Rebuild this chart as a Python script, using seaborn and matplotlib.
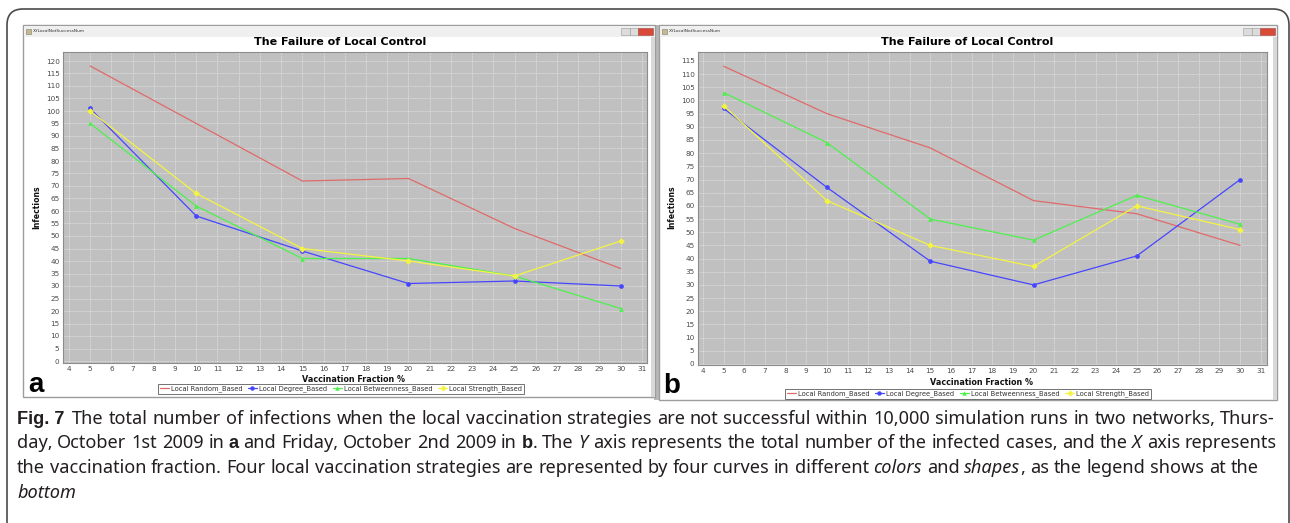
#!/usr/bin/env python3
"""Fig. 7: failure of local control, two networks (a, b)."""

import matplotlib
matplotlib.use("Agg")
import matplotlib.pyplot as plt
from matplotlib import font_manager
from matplotlib.patches import Rectangle, FancyBboxPatch
from matplotlib.transforms import IdentityTransform
from matplotlib.lines import Line2D
import pandas as pd
import seaborn as sns

W, H = 1290, 523

fractions = [5, 10, 15, 20, 25, 30]
strategies = ["Local Random_Based", "Local Degree_Based",
              "Local Betweenness_Based", "Local Strength_Based"]

a_random = [118, 95, 72, 73, 53, 37]
a_degree = [101, 58, 44, 31, 32, 30]
a_betweenness = [95, 62, 41, 41, 34, 21]
a_strength = [100, 67, 45, 40, 34, 48]

b_random = [113, 95, 82, 62, 57, 45]
b_degree = [97, 67, 39, 30, 41, 70]
b_betweenness = [103, 84, 55, 47, 64, 53]
b_strength = [98, 62, 45, 37, 60, 51]

x_ticks = list(range(4, 32))
a_y_ticks = list(range(0, 121, 5))
b_y_ticks = list(range(0, 116, 5))

palette = {
    "Local Random_Based": "#e06a6a",
    "Local Degree_Based": "#4646ff",
    "Local Betweenness_Based": "#4ef04e",
    "Local Strength_Based": "#f4f442",
}
markers = {
    "Local Random_Based": None,
    "Local Degree_Based": "o",
    "Local Betweenness_Based": "^",
    "Local Strength_Based": "D",
}

# "|" marks a piece glued to the previous one (no space before it)
caption_lines = [
    [("Fig. 7", "bold"), ("The total number of infections when the local vaccination "
                          "strategies are not successful within 10,000 simulation runs "
                          "in two networks, Thurs-", "normal")],
    [("day, October 1st 2009 in", "normal"), ("a", "bold"),
     ("and Friday, October 2nd 2009 in", "normal"), ("b", "bold"),
     ("|. The", "normal"), ("Y", "italic"),
     ("axis represents the total number of the infected cases, and the", "normal"),
     ("X", "italic"), ("axis represents", "normal")],
    [("the vaccination fraction. Four local vaccination strategies are represented "
      "by four curves in different", "normal"), ("colors", "italic"), ("and", "normal"),
     ("shapes", "italic"), ("|, as the legend shows at the", "normal")],
    [("bottom", "italic")],
]


def disp(x, y):
    return x, H - y


def fig_rect(fig, x0, y0, x1, y1, **kw):
    kw.setdefault("zorder", -10)
    r = Rectangle(disp(x0, y1), x1 - x0, y1 - y0, transform=IdentityTransform(), **kw)
    fig.add_artist(r)
    return r


def draw_window(fig, x0, y0, x1, y1):
    fig_rect(fig, x0, y0, x1, y1, facecolor="white", edgecolor="#9c9c9c", linewidth=1.0,
             zorder=-20)
    # title bar
    fig_rect(fig, x0 + 1, y0 + 1, x1 - 1, y0 + 12, facecolor="#efefef", edgecolor="none")
    fig_rect(fig, x0 + 3, y0 + 4, x0 + 8, y0 + 9, facecolor="#c8b88a", edgecolor="#7a7a7a",
             linewidth=0.4)
    fig.text((x0 + 10) / W, 1 - (y0 + 6.5) / H, "XYLocalNotSuccessNum", fontsize=3.2,
             color="#333333", va="center")
    bx = x1 - 34
    fig_rect(fig, bx, y0 + 3, bx + 9, y0 + 10, facecolor="#dcdcdc", edgecolor="#9a9a9a",
             linewidth=0.4)
    fig_rect(fig, bx + 9, y0 + 3, bx + 17, y0 + 10, facecolor="#dcdcdc", edgecolor="#9a9a9a",
             linewidth=0.4)
    fig_rect(fig, bx + 17, y0 + 3, bx + 32, y0 + 10, facecolor="#d9493a", edgecolor="#9a4a40",
             linewidth=0.4)
    # right frame strip
    fig_rect(fig, x1 - 4, y0 + 12, x1, y1, facecolor="#d8d8d8", edgecolor="none")


def draw_panel(ax, series, y_ticks, ylim, xlim):
    ax.set_facecolor("#c0c0c0")
    for name, values in zip(strategies, series):
        df = pd.DataFrame({"fraction": fractions, "infections": values})
        kw = dict(marker=markers[name], markersize=3.4, markeredgewidth=0) if markers[name] else {}
        sns.lineplot(data=df, x="fraction", y="infections", ax=ax, color=palette[name],
                     linewidth=0.9, label=name, legend=False, **kw)
    ax.set_xticks(x_ticks)
    ax.set_yticks(y_ticks)
    ax.set_xlim(*xlim)
    ax.set_ylim(*ylim)
    ax.grid(True, color="#f4f4f4", linestyle=(0, (1.0, 1.4)), linewidth=0.5)
    ax.set_axisbelow(True)
    ax.tick_params(labelsize=5.2, colors="#4a4a4a", length=1.5, width=0.5, pad=1)
    for s in ax.spines.values():
        s.set_color("#8c8c8c")
        s.set_linewidth(0.8)
    ax.set_xlabel("")
    ax.set_ylabel("")


def legend_handles():
    hs = []
    for name in strategies:
        m = markers[name]
        hs.append(Line2D([0], [0], color=palette[name], linewidth=0.9,
                         marker=m if m else None, markersize=3.2, markeredgewidth=0))
    return hs


def draw_caption(fig, renderer):
    names = {f.name for f in font_manager.fontManager.ttflist}
    family = "Liberation Sans Narrow" if "Liberation Sans Narrow" in names else "Noto Sans"
    cond = "normal" if family == "Liberation Sans Narrow" else "condensed"
    x_left, x_right = 17, 1275
    size = 12.5

    def props(style):
        if style == "bold":
            return dict(family=["Liberation Sans", "DejaVu Sans"], fontweight="bold")
        return dict(family=family, fontstretch=cond,
                    fontstyle="italic" if style == "italic" else "normal")

    def measure(s, style, fs):
        t = fig.text(0, 0, s, fontsize=fs, **props(style))
        w = t.get_window_extent(renderer).width
        t.remove()
        return w

    def words_of(line):
        out = []
        for text, style in line:
            glue = text.startswith("|")
            text = text.lstrip("|")
            parts = [text] if style == "bold" else text.split()
            for i, wd in enumerate(parts):
                out.append((wd, style, glue and i == 0))
        return out

    # fit size so that line 1 fills the measure
    words1 = words_of(caption_lines[0])
    sp = measure("x x", "normal", size) - measure("xx", "normal", size)
    nat = sum(measure(w, s, size) for w, s, _ in words1) + sp * len(words1)
    size = size * (x_right - x_left) / nat
    sp = measure("x x", "normal", size) - measure("xx", "normal", size)

    baselines = [424, 448.5, 473, 497.5]
    for li, line in enumerate(caption_lines):
        words = words_of(line)
        widths = [measure(w, s, size) for w, s, _ in words]
        gaps = [0 if g else sp for _, _, g in words[1:]]
        if li == 0:
            gaps[0] = sp * 1.6
        extra = 0
        total = sum(widths) + sum(gaps)
        if li < 2 and total < x_right - x_left:
            n = sum(1 for g in gaps if g > 0)
            extra = (x_right - x_left - total) / max(n, 1)
        x = x_left
        for i, ((wd, style, _), w) in enumerate(zip(words, widths)):
            if i > 0:
                x += gaps[i - 1] + (extra if gaps[i - 1] > 0 else 0)
            fig.text(x / W, 1 - baselines[li] / H, wd, fontsize=size, color="#231f20",
                     va="baseline", **props(style))
            x += w


def main():
    sns.set_style("white")
    plt.rcParams["font.family"] = ["DejaVu Sans"]
    fig = plt.figure(figsize=(W / 100, H / 100), dpi=100, facecolor="white")
    renderer = fig.canvas.get_renderer()

    # outer rounded frame
    frame = FancyBboxPatch(disp(7, 560), 1282, 551, boxstyle="round,pad=0,rounding_size=16",
                           transform=IdentityTransform(), facecolor="none",
                           edgecolor="#4a4a4a", linewidth=1.2, zorder=-30)
    fig.add_artist(frame)

    fig_rect(fig, 654, 25, 660, 400, facecolor="#b8b8b8", edgecolor="none", zorder=-25)
    draw_window(fig, 23, 25, 655, 397)
    draw_window(fig, 659, 25, 1277, 400)

    ax_a = fig.add_axes([63 / W, 1 - 363 / H, 584 / W, 311 / H])
    ax_b = fig.add_axes([698 / W, 1 - 365 / H, 569 / W, 313 / H])

    draw_panel(ax_a, [a_random, a_degree, a_betweenness, a_strength], a_y_ticks,
               (-0.8, 123.6), (3.72, 31.24))
    draw_panel(ax_b, [b_random, b_degree, b_betweenness, b_strength], b_y_ticks,
               (-0.4, 118.4), (3.76, 31.3))

    for cx, ty, lx, ly, xl_y, leg_y, letter, lt_x, lt_y in [
        (340, 42, 37, 207, 379, 389, "a", 28, 392),
        (967, 42, 672, 207, 382.5, 394, "b", 663, 393),
    ]:
        fig.text(cx / W, 1 - ty / H, "The Failure of Local Control", fontsize=8.0,
                 fontweight="bold", ha="center", va="center", color="black")
        fig.text(lx / W, 1 - ly / H, "Infections", fontsize=5.6, fontweight="bold",
                 rotation=90, ha="center", va="center", color="#111111")
        fig.text((cx + 14) / W, 1 - xl_y / H, "Vaccination Fraction %", fontsize=5.8,
                 fontweight="bold", ha="center", va="center", color="#111111")
        leg = fig.legend(legend_handles(), strategies, loc="center",
                         bbox_to_anchor=((cx + 1) / W, 1 - leg_y / H), ncol=4,
                         fontsize=4.9, frameon=True, fancybox=False, edgecolor="#333333",
                         handlelength=1.3, handletextpad=0.35, columnspacing=0.8,
                         borderpad=0.3, borderaxespad=0)
        leg.get_frame().set_linewidth(0.6)
        for t in leg.get_texts():
            t.set_color("#333333")
        fig.text(lt_x / W, 1 - lt_y / H, letter, fontsize=20, fontweight="bold",
                 family=["Liberation Sans", "DejaVu Sans"], va="baseline", color="black")

    draw_caption(fig, renderer)

    fig.savefig("out.png", dpi=100, facecolor="white")
    plt.close(fig)


if __name__ == "__main__":
    main()
